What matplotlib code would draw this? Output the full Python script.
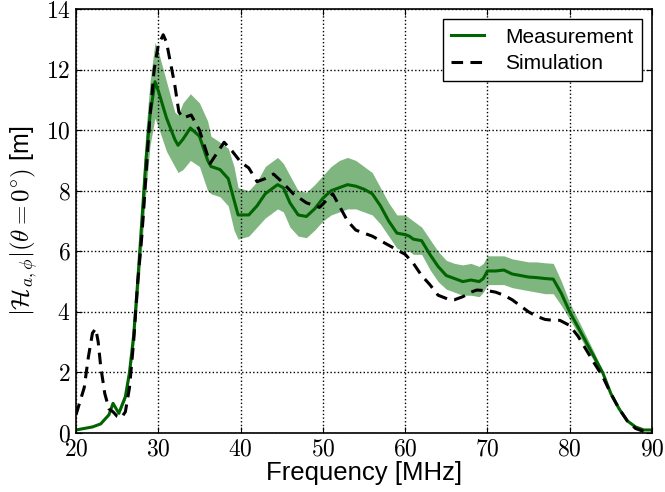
import numpy as np
import matplotlib
matplotlib.use('Agg')
import matplotlib.pyplot as plt
from matplotlib.ticker import FuncFormatter

plt.rcParams['font.family'] = ['Liberation Sans', 'DejaVu Sans']
plt.rcParams['mathtext.fontset'] = 'cm'

meas_f = [20, 21, 22, 23, 24, 24.5, 25.2, 26, 26.5, 27, 27.5, 28, 28.5, 29, 29.6,
          30, 31, 32, 32.4, 33, 33.9, 35, 36, 36.4, 37.5, 38.5, 39.2, 39.7, 41, 42,
          43, 44.5, 45.2, 46, 47, 48, 49, 50, 51, 52, 53, 54, 55, 56, 57, 58, 59,
          60, 60.5, 61, 62, 63, 64, 65, 66, 67, 68, 69, 69.5, 70, 71, 72, 73, 74,
          75, 76, 77, 78, 79, 80, 81, 82, 83, 84, 85, 86, 87, 88, 89, 90]
meas_v = [0.1, 0.15, 0.2, 0.3, 0.6, 0.98, 0.65, 1.2, 2.0, 3.2, 5.0, 7.0, 9.0, 10.5, 11.6,
          11.3, 10.4, 9.7, 9.5, 9.7, 10.07, 9.8, 9.0, 8.8, 8.7, 8.4, 7.7, 7.2, 7.2, 7.5,
          7.9, 8.2, 8.1, 7.6, 7.2, 7.15, 7.4, 7.75, 8.0, 8.1, 8.2, 8.15, 8.05, 7.9, 7.5, 7.0, 6.6,
          6.55, 6.5, 6.4, 6.35, 5.9, 5.5, 5.2, 5.1, 5.0, 5.05, 5.0, 5.1, 5.35, 5.35, 5.38, 5.25, 5.2,
          5.15, 5.13, 5.1, 5.08, 4.6, 4.0, 3.5, 3.0, 2.5, 2.0, 1.3, 0.8, 0.4, 0.2, 0.1, 0.1]
meas_hi = [0.1, 0.15, 0.2, 0.3, 0.6, 0.98, 0.7, 1.3, 2.2, 3.6, 5.6, 7.8, 10.0, 11.6, 12.9,
           12.6, 11.6, 10.6, 10.5, 10.9, 11.2, 10.9, 10.3, 9.8, 9.6, 9.4, 8.8, 8.1, 8.0, 8.3,
           8.8, 9.1, 8.9, 8.5, 8.0, 7.95, 8.2, 8.5, 8.8, 9.0, 9.1, 9.0, 8.8, 8.6, 8.1, 7.6, 7.2,
           7.2, 7.1, 7.0, 6.8, 6.4, 6.0, 5.7, 5.6, 5.55, 5.6, 5.5, 5.6, 5.85, 5.85, 5.85, 5.75, 5.7,
           5.65, 5.65, 5.62, 5.6, 5.0, 4.3, 3.75, 3.2, 2.65, 2.05, 1.35, 0.8, 0.4, 0.2, 0.1, 0.1]
meas_lo = [0.1, 0.15, 0.2, 0.3, 0.6, 0.98, 0.6, 1.1, 1.8, 2.8, 4.4, 6.2, 8.0, 9.5, 10.4,
           10.1, 9.3, 8.8, 8.6, 8.7, 9.0, 8.8, 8.0, 7.9, 7.8, 7.5, 6.7, 6.4, 6.5, 6.8,
           7.1, 7.4, 7.3, 6.8, 6.5, 6.45, 6.7, 7.0, 7.2, 7.3, 7.4, 7.4, 7.3, 7.2, 6.9, 6.5, 6.1,
           6.0, 6.0, 5.9, 5.9, 5.4, 5.0, 4.75, 4.65, 4.55, 4.55, 4.5, 4.65, 4.9, 4.9, 4.9, 4.8, 4.75,
           4.7, 4.65, 4.6, 4.6, 4.2, 3.75, 3.3, 2.8, 2.35, 1.95, 1.25, 0.8, 0.4, 0.2, 0.1, 0.1]

# Simulation (black dashed)
sim_f = [20, 21, 21.5, 22, 22.4, 22.7, 23, 23.5, 24, 24.5, 25, 25.5, 26, 26.5, 27, 27.5,
         28, 28.5, 29, 29.5, 30, 30.6, 31, 32, 32.5, 33, 34, 35, 36.3, 38, 39, 40, 41,
         42, 43, 44, 45, 46.4, 48, 49.6, 50.5, 51.2, 52, 53, 54, 55, 56, 57, 58, 59, 60,
         61, 62, 63, 64, 65.4, 66, 67, 68, 68.7, 70, 71, 72, 73, 74, 75, 76, 77, 78, 78.8,
         80, 81, 82, 83, 84, 85, 86, 87, 88, 89, 90]
sim_v = [0.6, 1.5, 2.5, 3.3, 3.45, 3.0, 2.2, 1.3, 0.8, 0.7, 0.55, 0.5, 0.7, 1.5, 3.0, 5.0,
         6.5, 8.5, 10.5, 12.0, 12.8, 13.15, 12.9, 11.5, 10.6, 10.4, 10.5, 10.0, 8.9, 9.6, 9.3, 8.95, 8.75,
         8.3, 8.4, 8.55, 8.3, 7.9, 7.6, 7.45, 7.7, 7.9, 7.5, 7.0, 6.7, 6.6, 6.5, 6.35, 6.2, 6.05, 5.9,
         5.6, 5.2, 4.9, 4.55, 4.4, 4.4, 4.5, 4.65, 4.72, 4.7, 4.65, 4.55, 4.4, 4.2, 4.0, 3.85, 3.75, 3.72, 3.72,
         3.55, 3.2, 2.75, 2.3, 1.87, 1.3, 0.8, 0.4, 0.15, 0.05, 0.05]

fig = plt.figure(figsize=(6.65, 4.92), dpi=100)
ax = fig.add_axes([76/665, 59/492, 576/665, 424/492])

ax.fill_between(meas_f, meas_lo, meas_hi, color='#7fb57f', linewidth=0)
ax.plot(meas_f, meas_v, color='darkgreen', lw=2.2, label='Measurement')
sim_line, = ax.plot(sim_f, sim_v, 'k--', lw=2.2, label='Simulation')
sim_line.set_dashes((3.8, 2.4))

ax.set_xlim(20, 90)
ax.set_ylim(0, 14)
ax.set_xticks(range(20, 91, 10))
ax.set_yticks(range(0, 15, 2))
fmt = FuncFormatter(lambda v, p: '$%d$' % v)
ax.xaxis.set_major_formatter(fmt)
ax.yaxis.set_major_formatter(fmt)
ax.tick_params(direction='in', top=True, right=True, labelsize=17, length=4, pad=4)
ax.grid(True, color='k', linestyle=':', linewidth=1)
for s in ax.spines.values():
    s.set_linewidth(1.2)

ax.set_xlabel('Frequency [MHz]', fontsize=18.5, labelpad=0)
ax.set_ylabel(r'$|\mathcal{H}_{a,\phi}|(\theta=0^{\circ})$ [m]', fontsize=18, labelpad=4)

leg = ax.legend(loc='upper right', fontsize=15, fancybox=False, framealpha=1, edgecolor='k',
                handlelength=1.6, handletextpad=1.0, labelspacing=0.35, borderpad=0.4)
leg.get_frame().set_linewidth(1)

plt.savefig('out.png', dpi=100)
